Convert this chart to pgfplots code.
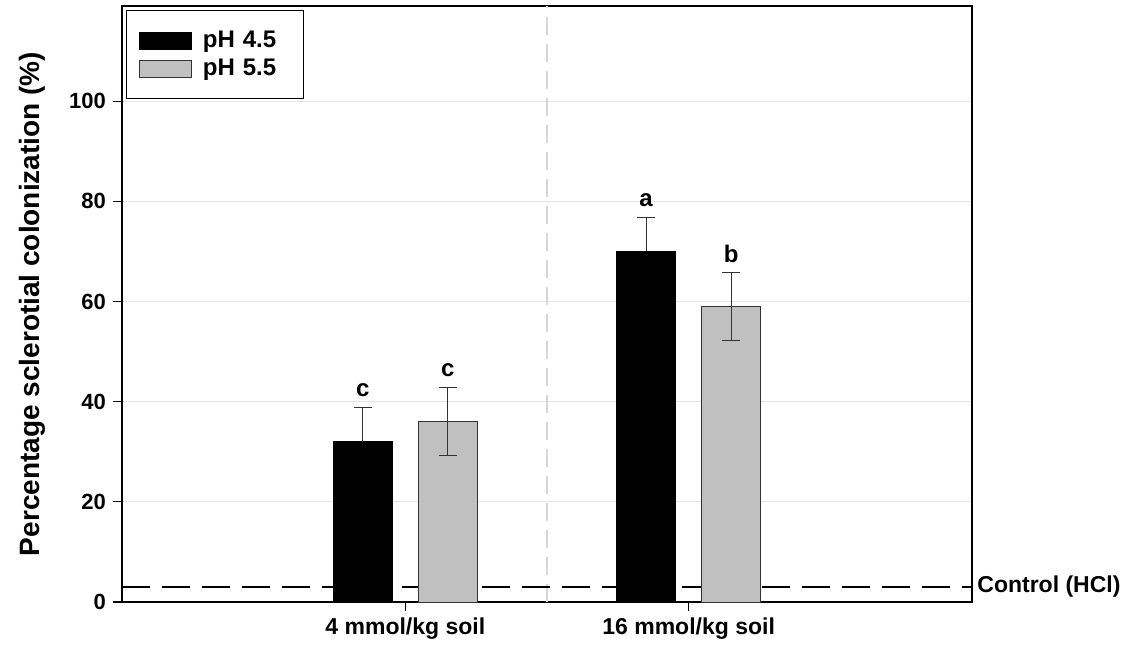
\documentclass[border=0pt]{standalone}
\usepackage{pgfplots}
\pgfplotsset{compat=1.18}
\usepackage{fontspec}
\setmainfont{Liberation Sans}
\definecolor{barg}{RGB}{192,192,192}
\definecolor{gridc}{RGB}{228,228,228}
\definecolor{vdash}{RGB}{215,215,215}
\definecolor{errc}{RGB}{50,50,50}
\begin{document}
\begin{tikzpicture}
\path[use as bounding box] (-61pt,-23.5pt) rectangle (506pt,301pt);
\begin{axis}[
  scale only axis,
  width=425pt, height=298pt,
  xmin=0, xmax=3, ymin=0, ymax=119,
  xtick={1,2},
  xticklabels={4 mmol/kg soil,16 mmol/kg soil},
  ytick={0,20,40,60,80,100},
  tick pos=left,
  tick align=outside,
  major tick length=4.5pt,
  tick style={black, line width=0.6pt},
  axis line style={black, line width=0.7pt},
  ymajorgrids,
  grid style={gridc, line width=0.6pt},
  clip=false,
  bar width=29.5pt,
  /pgf/number format/assume math mode=true,
  ticklabel style={font=\bfseries\fontsize{11}{13}\selectfont},
  xticklabel style={font=\bfseries\fontsize{11.5}{13}\selectfont},
  ylabel={Percentage sclerotial colonization (\%)},
  every axis y label/.style={at={(axis description cs:0,0.5)}, xshift=-45pt, rotate=90, anchor=center, font=\bfseries\fontsize{14}{16}\selectfont},
  legend style={at={(axis description cs:0.005,0.993)}, anchor=north west, draw=black, line width=0.6pt,
    font=\bfseries\fontsize{12}{14}\selectfont, inner xsep=6pt, inner ysep=8.5pt, row sep=1.5pt,
    nodes={inner sep=1.5pt},
    /tikz/every odd column/.append style={column sep=4pt},
    /tikz/every even column/.append style={text width=43pt, align=left}},
  legend cell align=left,
  legend image code/.code={\draw[#1, line width=0.5pt] (0pt,-4.25pt) rectangle (26pt,4.25pt);},
]
% vertical separator
\addplot[vdash, line width=1pt, dash pattern=on 9pt off 4.5pt, forget plot] coordinates {(1.5,0) (1.5,119)};
% control line
\addplot[black, line width=0.8pt, dash pattern=on 14pt off 6pt, forget plot] coordinates {(0,3) (3,3)};
% pH 4.5
\addplot[ybar, bar shift=0pt, fill=black, draw=black, line width=0.5pt,
  error bars/.cd, y dir=plus, y explicit,
  error bar style={errc, line width=0.6pt},
  error mark options={rotate=90, mark size=4.5pt, errc, line width=0.6pt}]
  coordinates {(0.85,32) +- (0,6.8) (1.85,70) +- (0,6.8)};
\addlegendentry{pH 4.5}
% pH 5.5
\addplot[ybar, bar shift=0pt, fill=barg, draw=black!80, line width=0.5pt,
  error bars/.cd, y dir=both, y explicit,
  error bar style={errc, line width=0.6pt},
  error mark options={rotate=90, mark size=4.5pt, errc, line width=0.6pt}]
  coordinates {(1.15,36) +- (0,6.8) (2.15,59) +- (0,6.8)};
\addlegendentry{pH 5.5}
% significance letters
\node[anchor=base, font=\bfseries\fontsize{12}{14}\selectfont] at (axis cs:0.85,41) {c};
\node[anchor=base, font=\bfseries\fontsize{12}{14}\selectfont] at (axis cs:1.15,45) {c};
\node[anchor=base, font=\bfseries\fontsize{12}{14}\selectfont] at (axis cs:1.85,79) {a};
\node[anchor=base, font=\bfseries\fontsize{12}{14}\selectfont] at (axis cs:2.15,67.7) {b};
\node[anchor=west, inner sep=0pt, font=\bfseries\fontsize{11.5}{13}\selectfont, xshift=2.5pt] at (axis cs:3,3) {Control (HCl)};
\end{axis}
\end{tikzpicture}
\end{document}
